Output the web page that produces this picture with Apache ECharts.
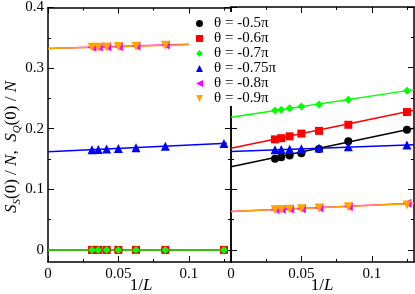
<!DOCTYPE html>
<html><head><meta charset="utf-8">
<script src="https://cdn.jsdelivr.net/npm/echarts@6/dist/echarts.min.js"></script>
<style>html,body{margin:0;padding:0;background:#fff}#c{width:415px;height:294px}</style>
</head><body><div id="c"></div>
<script>
// x values: 1/L for L = 32, 28, 24, 20, 16, 12, 8
const invL = [0.03125, 0.035714, 0.041667, 0.05, 0.0625, 0.083333, 0.125];
const thetaLabels = ['θ = -0.5π', 'θ = -0.6π', 'θ = -0.7π', 'θ = -0.75π', 'θ = -0.8π', 'θ = -0.9π'];
const colors = ['#000000', '#ff0000', '#00ff00', '#0000ff', '#ff00ff', '#ffa500'];
const symbols = ['circle', 'rect', 'diamond', 'triangle', 'path://M0,5L10,0L10,10Z', 'path://M0,0L10,0L5,10Z'];

// Left panel: S_S(0)/N
const ssM05 = [0, 0, 0, 0, 0, 0, 0];
const ssM06 = [0, 0, 0, 0, 0, 0, 0];
const ssM07 = [0, 0, 0, 0, 0, 0, 0];
const ssM075 = [0.1652, 0.1657, 0.1664, 0.1673, 0.1687, 0.1710, 0.1756];
const ssM08 = [0.3346, 0.3349, 0.3353, 0.3358, 0.3366, 0.3380, null];
const ssM09 = [0.3342, 0.3345, 0.3349, 0.3355, 0.3362, 0.3375, null];

// Right panel: S_Q(0)/N
const sqM05 = [0.1500, 0.1525, 0.1555, 0.1590, 0.1660, 0.1790, 0.1980];
const sqM06 = [0.1820, 0.1840, 0.1870, 0.1915, 0.1960, 0.2060, 0.2270];
const sqM07 = [0.2297, 0.2307, 0.2332, 0.2360, 0.2395, 0.2472, 0.2622];
const sqM075 = [0.1648, 0.1652, 0.1657, 0.1664, 0.1677, 0.1698, 0.1728];
const sqM08 = [0.0664, 0.0667, 0.0672, 0.0679, 0.0692, 0.0713, 0.0768];
const sqM09 = [0.0662, 0.0665, 0.0670, 0.0677, 0.0690, 0.0710, 0.0740];

// Fit lines (end points)
const fitLeftX = [0, 0.127];
const fitLeftShortX = [0, 0.1];
const fitLeftM05 = [0, 0];
const fitLeftM06 = [0, 0];
const fitLeftM07 = [0, 0];
const fitLeftM075 = [0.1618, 0.1758];
const fitLeftM08 = [0.3325, 0.3392];
const fitLeftM09 = [0.3323, 0.3387];
const fitRightX = [0, 0.13];
const fitRightM05 = [0.1370, 0.2004];
const fitRightM06 = [0.1674, 0.2300];
const fitRightM07 = [0.2184, 0.2639];
const fitRightM075 = [0.1618, 0.1732];
const fitRightM08 = [0.0632, 0.0768];
const fitRightM09 = [0.0630, 0.0762];

// Ticks
const xTickLabels = [0, 0.05, 0.1];
const xMinorTicks = [0.025, 0.075, 0.125];
const yTickLabels = [0, 0.1, 0.2, 0.3, 0.4];
const yMinorTicks = [0.05, 0.15, 0.25, 0.35];

const FONT = 'Liberation Serif';
const pts = (xs, ys) => xs.map((x, i) => [x, ys[i]]).filter(p => p[1] != null);

function mkX(gridIndex, position, ticks, len, showLabel, showLine) {
  return {
    type: 'value', gridIndex, position, min: 0, max: 0.13,
    axisLine: {show: showLine, onZero: false, lineStyle: {color: '#000', width: 1.5}},
    axisTick: {show: true, inside: true, length: len, customValues: ticks, lineStyle: {color: '#000', width: 1}},
    axisLabel: {show: showLabel, customValues: xTickLabels, margin: 5, color: '#000', fontFamily: FONT, fontSize: 15, formatter: v => String(v)},
    splitLine: {show: false}, minorTick: {show: false}
  };
}
function mkY(gridIndex, position, ticks, len, showLabel, showLine) {
  return {
    type: 'value', gridIndex, position, min: -0.02, max: 0.4,
    axisLine: {show: showLine, onZero: false, lineStyle: {color: '#000', width: 1.5}},
    axisTick: {show: true, inside: true, length: len, customValues: ticks, lineStyle: {color: '#000', width: 1}},
    axisLabel: {show: showLabel, customValues: yTickLabels, margin: 4, color: '#000', fontFamily: FONT, fontSize: 15, formatter: v => String(v)},
    splitLine: {show: false}, minorTick: {show: false}
  };
}

const xAxes = [
  mkX(0, 'bottom', xTickLabels, 6, true, true),
  mkX(0, 'top', xTickLabels, 6, false, true),
  mkX(0, 'bottom', xMinorTicks, 3, false, false),
  mkX(0, 'top', xMinorTicks, 3, false, false),
  mkX(1, 'bottom', xTickLabels, 6, true, true),
  mkX(1, 'top', xTickLabels, 6, false, true),
  mkX(1, 'bottom', xMinorTicks, 3, false, false),
  mkX(1, 'top', xMinorTicks, 3, false, false)
];
const yAxes = [
  mkY(0, 'left', yTickLabels, 6, true, true),
  mkY(0, 'right', yTickLabels, 6, false, true),
  mkY(0, 'left', yMinorTicks, 3, false, false),
  mkY(0, 'right', yMinorTicks, 3, false, false),
  mkY(1, 'left', yTickLabels, 6, false, true),
  mkY(1, 'right', yTickLabels, 6, false, true),
  mkY(1, 'left', yMinorTicks, 3, false, false),
  mkY(1, 'right', yMinorTicks, 3, false, false)
];

const leftVals = [ssM05, ssM06, ssM07, ssM075, ssM08, ssM09];
const rightVals = [sqM05, sqM06, sqM07, sqM075, sqM08, sqM09];
const leftFits = [fitLeftM05, fitLeftM06, fitLeftM07, fitLeftM075, fitLeftM08, fitLeftM09];
const leftFitXs = [fitLeftX, fitLeftX, fitLeftX, fitLeftX, fitLeftShortX, fitLeftShortX];
const rightFits = [fitRightM05, fitRightM06, fitRightM07, fitRightM075, fitRightM08, fitRightM09];
const symSizes = [8, 8, 8, 9, 9, 9];

const series = [];
for (let k = 0; k < 6; k++) {
  series.push({type: 'line', name: 'fitL' + k, xAxisIndex: 0, yAxisIndex: 0, data: pts(leftFitXs[k], leftFits[k]),
    symbol: 'none', lineStyle: {color: colors[k], width: 1.5}, z: 2, silent: true});
  series.push({type: 'line', name: 'fitR' + k, xAxisIndex: 4, yAxisIndex: 4, data: pts(fitRightX, rightFits[k]),
    symbol: 'none', lineStyle: {color: colors[k], width: 1.5}, z: 2, silent: true});
}
for (let k = 0; k < 6; k++) {
  series.push({type: 'scatter', name: thetaLabels[k], xAxisIndex: 0, yAxisIndex: 0, data: pts(invL, leftVals[k]),
    symbol: symbols[k], symbolSize: symSizes[k], itemStyle: {color: colors[k], opacity: 1}, z: 3});
  series.push({type: 'scatter', name: thetaLabels[k], xAxisIndex: 4, yAxisIndex: 4, data: pts(invL, rightVals[k]),
    symbol: symbols[k], symbolSize: symSizes[k], itemStyle: {color: colors[k], opacity: 1}, z: 3});
}

const xTitleRich = {
  n: {fontFamily: FONT, fontSize: 17, fill: '#000'},
  i: {fontFamily: FONT, fontSize: 17, fontStyle: 'italic', fill: '#000'}
};

const chart = echarts.init(document.getElementById('c'));
chart.setOption({
  animation: false,
  backgroundColor: '#fff',
  grid: [
    {left: 48, top: 7, width: 183, height: 255},
    {left: 231, top: 7, width: 183, height: 255}
  ],
  xAxis: xAxes,
  yAxis: yAxes,
  legend: {
    data: thetaLabels,
    orient: 'vertical', left: 192, top: 12, padding: [4, 6, 0, 4], itemGap: 0,
    itemWidth: 7, itemHeight: 7, selectedMode: false, z: 10,
    backgroundColor: '#fff',
    formatter: n => '{g|}{t|' + n + '}',
    textStyle: {
      fontFamily: FONT, fontSize: 15, color: '#000', lineHeight: 13,
      rich: {
        g: {width: 6, height: 13},
        t: {fontFamily: FONT, fontSize: 15, color: '#000', lineHeight: 13}
      }
    }
  },
  graphic: [
    {
      type: 'text', left: 3, top: 'middle', rotation: Math.PI / 2,
      style: {
        text: '{i|S}{s|S}{n|(0) / }{i|N}{n|,  }{i|S}{s|Q}{n|(0) / }{i|N}',
        rich: {
          i: {fontFamily: FONT, fontSize: 17, fontStyle: 'italic', fill: '#000', lineHeight: 22, verticalAlign: 'middle'},
          n: {fontFamily: FONT, fontSize: 17, fill: '#000', lineHeight: 22, verticalAlign: 'middle'},
          s: {fontFamily: FONT, fontSize: 11, fontStyle: 'italic', fill: '#000', lineHeight: 10, verticalAlign: 'bottom'}
        }
      }
    },
    {type: 'text', x: 141, y: 286, style: {text: '{n|1/}{i|L}', rich: xTitleRich, align: 'center', verticalAlign: 'middle'}},
    {type: 'text', x: 322, y: 286, style: {text: '{n|1/}{i|L}', rich: xTitleRich, align: 'center', verticalAlign: 'middle'}}
  ],
  series
});
</script></body></html>
